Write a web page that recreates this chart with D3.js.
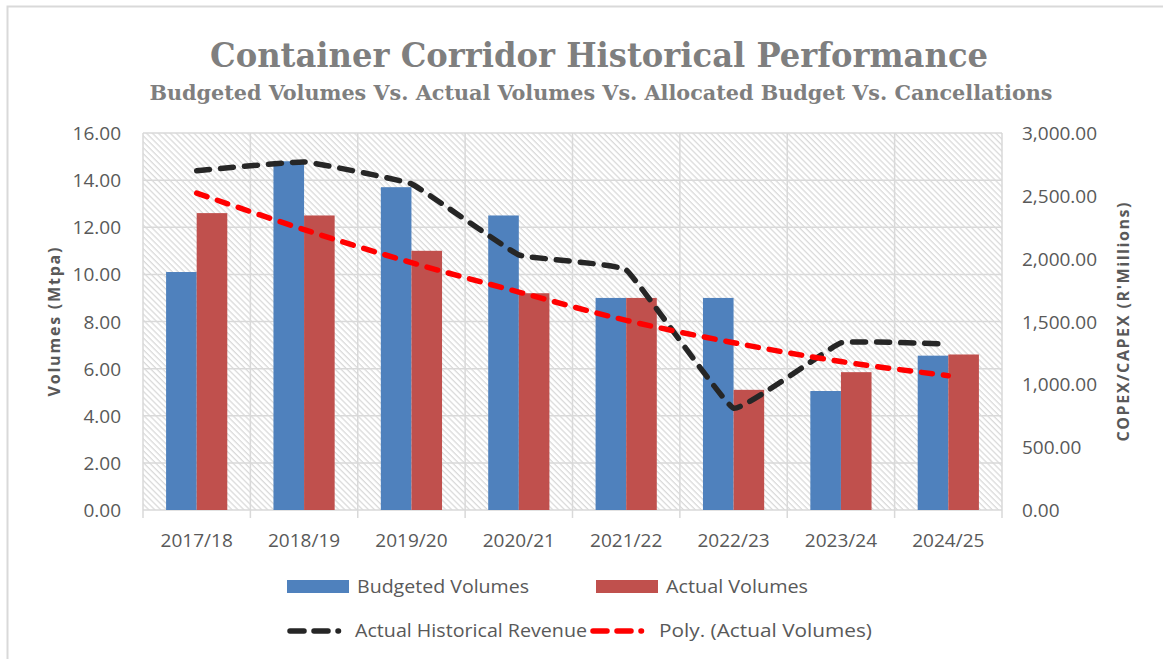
<!DOCTYPE html>
<html>
<head>
<meta charset="utf-8">
<script src="https://cdn.jsdelivr.net/npm/d3@7"></script>
<style>
  body { margin: 0; background: #fff; }
  text { font-family: "Open Sans", sans-serif; }
  text.title { font-family: "DejaVu Serif Condensed", "DejaVu Serif", serif; font-stretch: condensed; }
</style>
</head>
<body>
<div id="chart"></div>
<script>
var w = 1163;
var h = 659;

// data
var years = ["2017/18", "2018/19", "2019/20", "2020/21", "2021/22", "2022/23", "2023/24", "2024/25"];
var budgeted = [10.1, 14.8, 13.7, 12.5, 9.0, 9.0, 5.05, 6.55];
var actual = [12.6, 12.5, 11.0, 9.2, 9.0, 5.1, 5.85, 6.6];
var revenue = [2700, 2770, 2595, 2030, 1910, 810, 1330, 1320];
var trend = [13.45, 11.9, 10.5, 9.25, 8.05, 7.1, 6.3, 5.7];
var leftTicks = [0, 2, 4, 6, 8, 10, 12, 14, 16];
var rightTicks = [0, 500, 1000, 1500, 2000, 2500, 3000];

var plot = { left: 143, right: 1002, top: 133, bottom: 510 };

var svg = d3.select("#chart")
    .append("svg")
    .attr("width", w)
    .attr("height", h);

// outer frame (only top and left show in the shot)
svg.append("path")
    .attr("d", "M7.5," + h + "V6.5H" + w)
    .attr("fill", "none")
    .attr("stroke", "#d9d9d9")
    .attr("stroke-width", 2);

// hatch fill for the plot area
var defs = svg.append("defs");
var pat = defs.append("pattern")
    .attr("id", "hatch")
    .attr("patternUnits", "userSpaceOnUse")
    .attr("width", 4.2)
    .attr("height", 10)
    .attr("patternTransform", "rotate(-45)");
pat.append("rect").attr("width", 4.2).attr("height", 10).attr("fill", "#fff");
pat.append("line")
    .attr("x1", 1).attr("x2", 1)
    .attr("y1", 0).attr("y2", 10)
    .attr("stroke", "#d4d4d4")
    .attr("stroke-width", 1.1);

var x = d3.scaleBand()
    .domain(years)
    .range([plot.left, plot.right])
    .paddingInner(0)
    .paddingOuter(0);

var yL = d3.scaleLinear().domain([0, 16]).range([plot.bottom, plot.top]);
var yR = d3.scaleLinear().domain([0, 3000]).range([plot.bottom, plot.top]);

var groupW = x.bandwidth() * 0.57;
var x1 = d3.scaleBand()
    .domain([0, 1])
    .range([(x.bandwidth() - groupW) / 2, (x.bandwidth() + groupW) / 2]);

svg.append("rect")
    .attr("x", plot.left)
    .attr("y", plot.top)
    .attr("width", plot.right - plot.left)
    .attr("height", plot.bottom - plot.top)
    .attr("fill", "url(#hatch)");

// gridlines
svg.append("g")
    .selectAll("line")
    .data(leftTicks)
    .enter()
    .append("line")
    .attr("x1", plot.left)
    .attr("x2", plot.right)
    .attr("y1", function(d) { return yL(d); })
    .attr("y2", function(d) { return yL(d); })
    .attr("stroke", "#d9d9d9")
    .attr("stroke-width", 1.5);

var bounds = years.map(function(d) { return x(d); }).concat([plot.right]);
svg.append("g")
    .selectAll("line")
    .data(bounds)
    .enter()
    .append("line")
    .attr("x1", function(d) { return d; })
    .attr("x2", function(d) { return d; })
    .attr("y1", plot.top)
    .attr("y2", plot.bottom + 8)
    .attr("stroke", "#d9d9d9")
    .attr("stroke-width", 1.5);

// bars
var groups = svg.selectAll("g.year")
    .data(years)
    .enter()
    .append("g")
    .attr("class", "year")
    .attr("transform", function(d) { return "translate(" + x(d) + ",0)"; });

groups.append("rect")
    .attr("x", x1(0))
    .attr("width", x1.bandwidth())
    .attr("y", function(d, i) { return yL(budgeted[i]); })
    .attr("height", function(d, i) { return yL(0) - yL(budgeted[i]); })
    .attr("fill", "#4f81bd");

groups.append("rect")
    .attr("x", x1(1))
    .attr("width", x1.bandwidth())
    .attr("y", function(d, i) { return yL(actual[i]); })
    .attr("height", function(d, i) { return yL(0) - yL(actual[i]); })
    .attr("fill", "#c0504d");

// lines
var cx = function(i) { return x(years[i]) + x.bandwidth() / 2; };

var revLine = d3.line()
    .x(function(d, i) { return cx(i); })
    .y(function(d) { return yR(d); })
    .curve(d3.curveCardinal.tension(0.75));

var trendLine = d3.line()
    .x(function(d, i) { return cx(i); })
    .y(function(d) { return yL(d); })
    .curve(d3.curveCatmullRom.alpha(0.5));

svg.append("path")
    .attr("d", revLine(revenue))
    .attr("fill", "none")
    .attr("stroke", "#262626")
    .attr("stroke-width", 5.5)
    .attr("stroke-linecap", "round")
    .attr("stroke-dasharray", "13 11");

svg.append("path")
    .attr("d", trendLine(trend))
    .attr("fill", "none")
    .attr("stroke", "#ff0000")
    .attr("stroke-width", 5.5)
    .attr("stroke-linecap", "round")
    .attr("stroke-dasharray", "11 11");

// axes labels
var axisCol = "#595959";

svg.append("g")
    .selectAll("text")
    .data(leftTicks)
    .enter()
    .append("text")
    .attr("x", 121)
    .attr("y", function(d) { return yL(d) + 7; })
    .attr("text-anchor", "end")
    .attr("font-size", 19)
    .attr("fill", axisCol)
    .text(function(d) { return d3.format(".2f")(d); });

svg.append("g")
    .selectAll("text")
    .data(rightTicks)
    .enter()
    .append("text")
    .attr("x", 1022)
    .attr("y", function(d) { return yR(d) + 7; })
    .attr("text-anchor", "start")
    .attr("font-size", 19)
    .attr("fill", axisCol)
    .text(function(d) { return d3.format(",.2f")(d); });

svg.append("g")
    .selectAll("text")
    .data(years)
    .enter()
    .append("text")
    .attr("x", function(d) { return x(d) + x.bandwidth() / 2; })
    .attr("y", 547)
    .attr("text-anchor", "middle")
    .attr("font-size", 19)
    .attr("fill", axisCol)
    .text(function(d) { return d; });

svg.append("text")
    .attr("transform", "translate(60,322) rotate(-90)")
    .attr("text-anchor", "middle")
    .attr("font-size", 16)
    .attr("font-weight", "bold")
    .attr("fill", axisCol)
    .attr("textLength", 149)
    .text("Volumes (Mtpa)");

svg.append("text")
    .attr("transform", "translate(1129,322) rotate(-90)")
    .attr("text-anchor", "middle")
    .attr("font-size", 16)
    .attr("font-weight", "bold")
    .attr("fill", axisCol)
    .attr("textLength", 239)
    .text("COPEX/CAPEX (R'Millions)");

// titles
svg.append("text")
    .attr("class", "title")
    .attr("x", 599)
    .attr("y", 67)
    .attr("text-anchor", "middle")
    .attr("font-weight", "bold")
    .attr("font-size", 34)
    .attr("fill", "#7f7f7f")
    .attr("textLength", 778)
    .attr("lengthAdjust", "spacingAndGlyphs")
    .text("Container Corridor Historical Performance");

svg.append("text")
    .attr("class", "title")
    .attr("x", 601)
    .attr("y", 100)
    .attr("text-anchor", "middle")
    .attr("font-weight", "bold")
    .attr("font-size", 21)
    .attr("fill", "#7f7f7f")
    .attr("textLength", 903)
    .attr("lengthAdjust", "spacingAndGlyphs")
    .text("Budgeted  Volumes Vs. Actual Volumes Vs. Allocated Budget  Vs. Cancellations");

// legend
var legendCol = "#595959";
var lg = svg.append("g");

function legText(tx, ty, len, str) {
    lg.append("text").attr("x", tx).attr("y", ty)
        .attr("font-size", 18).attr("fill", legendCol)
        .attr("textLength", len).attr("lengthAdjust", "spacingAndGlyphs")
        .text(str);
}

lg.append("rect").attr("x", 287).attr("y", 580).attr("width", 62).attr("height", 13).attr("fill", "#4f81bd");
legText(357, 593, 172, "Budgeted Volumes");
lg.append("rect").attr("x", 596).attr("y", 580).attr("width", 62).attr("height", 13).attr("fill", "#c0504d");
legText(666, 593, 142, "Actual Volumes");

// legend line keys: dash, dash, dot
lg.append("line").attr("x1", 290).attr("x2", 351).attr("y1", 631).attr("y2", 631)
    .attr("stroke", "#262626").attr("stroke-width", 5.5).attr("stroke-linecap", "round")
    .attr("stroke-dasharray", "14 10 14 10 0.5 30");
legText(355, 637, 232, "Actual Historical Revenue");
lg.append("line").attr("x1", 593).attr("x2", 654).attr("y1", 631).attr("y2", 631)
    .attr("stroke", "#ff0000").attr("stroke-width", 5.5).attr("stroke-linecap", "round")
    .attr("stroke-dasharray", "14 10 14 10 0.5 30");
legText(659, 637, 213, "Poly. (Actual Volumes)");
</script>
</body>
</html>
